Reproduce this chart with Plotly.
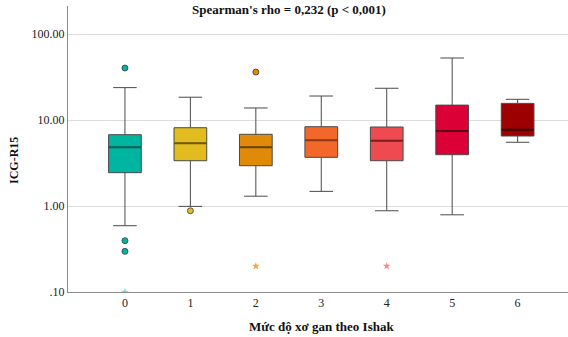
import plotly.graph_objects as go

categories = [0, 1, 2, 3, 4, 5, 6]
q1 = [2.44, 3.36, 2.94, 3.68, 3.36, 3.95, 6.51]
medians = [4.81, 5.36, 4.81, 5.81, 5.75, 7.45, 7.71]
q3 = [6.75, 8.13, 6.82, 8.36, 8.29, 14.9, 15.6]
lower_whisker = [0.59, 0.99, 1.30, 1.48, 0.88, 0.79, 5.51]
upper_whisker = [23.8, 18.4, 13.8, 19.0, 23.4, 52.6, 17.4]
outlier_x = [0, 0, 0, 1, 2]
outlier_y = [40.2, 0.395, 0.297, 0.88, 36.1]
extreme_x = [0, 2, 4]
extreme_y = [0.1, 0.2, 0.2]
tick_vals = [0.1, 1, 10, 100]
tick_text = [".10", "1.00", "10.00", "100.00"]

box_colors = ["#00B5A0", "#E2BB1E", "#E08A0A", "#F4672A", "#EE4A50", "#DB0036", "#9C0000"]
median_colors = ["#0B5A50", "#6E5A10", "#6A4205", "#8A3A18", "#7A1E22", "#5A0016", "#3A0000"]
extreme_colors = ["#7FD8CE", "#F2A640", "#F48A8E"]

W, H = 568, 337
L, R, T, B = 68, 0, 6, 337 - 292
PW, PH = W - L - R, H - T - B

serif = "Liberation Serif"
fig = go.Figure()

for i, c in enumerate(categories):
    fig.add_trace(go.Box(
        x=[c], q1=[q1[i]], median=[medians[i]], q3=[q3[i]],
        lowerfence=[lower_whisker[i]], upperfence=[upper_whisker[i]],
        fillcolor=box_colors[i], line=dict(color="#4a4a4a", width=1),
        width=0.5, whiskerwidth=0.72, boxpoints=False, showlegend=False,
        hoverinfo="skip",
    ))
    fig.add_trace(go.Scatter(
        x=[c - 0.245, c + 0.245], y=[medians[i], medians[i]], mode="lines",
        line=dict(color=median_colors[i], width=2), showlegend=False, hoverinfo="skip",
    ))

fig.add_trace(go.Scatter(
    x=outlier_x, y=outlier_y, mode="markers",
    marker=dict(size=6, color=[box_colors[c] for c in outlier_x],
                line=dict(color="#3a3a3a", width=0.8)),
    showlegend=False, hoverinfo="skip",
))
fig.add_trace(go.Scatter(
    x=extreme_x, y=extreme_y, mode="markers",
    marker=dict(size=6, symbol="star", color=extreme_colors),
    showlegend=False, hoverinfo="skip", cliponaxis=True,
))


def px(xp):
    return (xp - L) / PW


def py(yp):
    return (H - B - yp) / PH


fig.update_layout(
    width=W, height=H,
    margin=dict(l=L, r=R, t=T, b=B),
    plot_bgcolor="white", paper_bgcolor="white",
    font=dict(family=serif, color="#222222", size=12),
    annotations=[
        dict(text="<b>Spearman's rho = 0,232 (p < 0,001)</b>", x=px(289), y=py(9),
             xref="paper", yref="paper", xanchor="center", yanchor="middle",
             showarrow=False, font=dict(size=13, family=serif, color="#111111")),
        dict(text="<b>Mức độ xơ gan theo Ishak</b>", x=px(321), y=py(326),
             xref="paper", yref="paper", xanchor="center", yanchor="middle",
             showarrow=False, font=dict(size=13, family=serif, color="#111111")),
        dict(text="<b>ICG-R15</b>", x=px(14), y=py(161), textangle=-90,
             xref="paper", yref="paper", xanchor="center", yanchor="middle",
             showarrow=False, font=dict(size=12, family=serif, color="#111111")),
    ],
)

fig.update_xaxes(
    range=[-0.87, 6.77], tickvals=categories, ticktext=[str(c) for c in categories],
    showgrid=False, zeroline=False, showline=True, linecolor="#8a8a8a", linewidth=1,
    ticks="", tickfont=dict(size=12, family=serif), automargin=False,
)
fig.update_yaxes(
    type="log", range=[-1, 2 + 28 / 86], tickvals=tick_vals, ticktext=tick_text,
    showgrid=True, gridcolor="#dcdcdc", gridwidth=1, zeroline=False,
    showline=True, linecolor="#8a8a8a", linewidth=1, ticks="",
    tickfont=dict(size=12, family=serif), automargin=False,
)

# remove the browser's default 8px body margin so the figure fills the window
fig.write_html("out.html", config={"displayModeBar": False},
               post_script="document.body.style.margin='0px';")
